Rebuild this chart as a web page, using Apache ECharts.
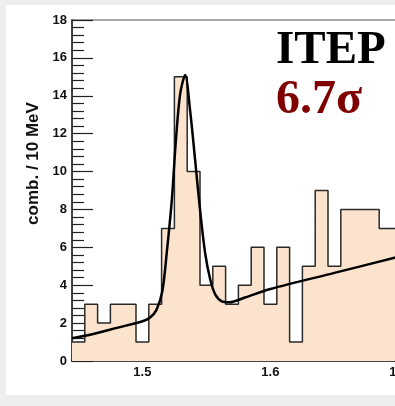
<!DOCTYPE html>
<html>
<head>
<meta charset="utf-8">
<script src="https://cdn.jsdelivr.net/npm/echarts@6/dist/echarts.min.js"></script>
<style>
  html, body { margin: 0; padding: 0; background: #eeeeee; overflow: hidden; }
  #panel { position: absolute; left: 6px; top: 5px; width: 389px; height: 390px; background: #fff; }
  /* the plot runs past the right edge of the window, as in the cropped original */
  #chart { position: absolute; left: 0; top: 0; width: 470px; height: 406px; }
</style>
</head>
<body>
<div id="panel"></div>
<div id="chart"></div>
<script>
// histogram: bin centers (GeV) and combinations per 10 MeV bin
var binCenters = [1.45, 1.46, 1.47, 1.48, 1.49, 1.50, 1.51, 1.52, 1.53, 1.54, 1.55, 1.56, 1.57,
                  1.58, 1.59, 1.60, 1.61, 1.62, 1.63, 1.64, 1.65, 1.66, 1.67, 1.68, 1.69, 1.70]
var counts = [1, 3, 2, 3, 3, 1, 3, 7, 15, 10, 4, 5, 3,
              4, 6, 3, 6, 1, 5, 9, 5, 8, 8, 8, 7, 7]
var binWidth = 0.01

// fit curve
var fitMass = [1.445, 1.46, 1.48, 1.50, 1.506, 1.511, 1.5156, 1.519, 1.523, 1.526, 1.5295, 1.5334,
               1.5373, 1.5412, 1.545, 1.549, 1.553, 1.557, 1.562, 1.568, 1.58, 1.60, 1.65, 1.70, 1.745]
var fitValue = [1.2, 1.4, 1.75, 2.1, 2.3, 2.7, 3.7, 5.7, 8.5, 11.5, 14.1, 15.1,
                13.2, 10.6, 8.0, 5.7, 4.3, 3.5, 3.15, 3.1, 3.35, 3.8, 4.65, 5.5, 6.25]

var xTickLabels = ['1.5', '1.6', '1.7']
var yAxisName = 'comb. / 10 MeV'
var expText = 'ITEP'
var sigText = '6.7σ'

// step outline built from the bins
var histPoints = []
binCenters.forEach(function (c, i) {
  histPoints.push([c - binWidth / 2, counts[i]])
  histPoints.push([c + binWidth / 2, counts[i]])
})
var fitPoints = fitMass.map(function (m, i) { return [m, fitValue[i]] })

var myChart = echarts.init(document.getElementById('chart'))
var labelFont = { fontFamily: 'Liberation Sans', fontWeight: 'bold', fontSize: 13, color: '#111' }

var option = {
  animation: false,
  grid: [
    { left: 72, top: 20, width: 384, height: 341, show: true, borderColor: '#a8a8a8', borderWidth: 2 },
    { left: 72, top: 20, width: 384, height: 341, show: false }
  ],
  xAxis: [
    {
      type: 'value', gridIndex: 0, min: 1.445, max: 1.745,
      splitNumber: 3, minInterval: 0.1, maxInterval: 0.1,
      axisLine: { lineStyle: { color: '#222', width: 1.5 } },
      axisTick: { inside: true, length: 8, lineStyle: { color: '#222', width: 1.2 } },
      splitLine: { show: false },
      axisLabel: Object.assign({
        margin: 5, showMinLabel: false, showMaxLabel: false,
        formatter: function (v) {
          var s = v.toFixed(1)
          return Math.abs(v * 10 - Math.round(v * 10)) < 1e-6 && xTickLabels.indexOf(s) >= 0 ? s : ''
        }
      }, labelFont)
    },
    {
      // short ticks every 50 MeV
      type: 'value', gridIndex: 1, min: 1.445, max: 1.745,
      splitNumber: 6, minInterval: 0.05, maxInterval: 0.05,
      axisLine: { show: false },
      axisTick: { inside: true, length: 5, lineStyle: { color: '#222', width: 1.2 } },
      axisLabel: { show: false },
      splitLine: { show: false }
    }
  ],
  yAxis: [
    {
      type: 'value', gridIndex: 0, min: 0, max: 18, interval: 2,
      name: yAxisName, nameLocation: 'middle', nameRotate: 90, nameGap: 30,
      nameTextStyle: { fontFamily: 'Liberation Sans', fontWeight: 'bold', fontSize: 17, color: '#111', padding: [0, 0, 0, 54] },
      axisLine: { lineStyle: { color: '#222', width: 1.5 } },
      axisTick: { inside: true, length: 21, lineStyle: { color: '#222', width: 1.2 } },
      minorTick: { show: true, splitNumber: 5, length: 12, lineStyle: { color: '#222', width: 1.2 } },
      splitLine: { show: false },
      axisLabel: Object.assign({ margin: 5 }, labelFont)
    },
    { type: 'value', gridIndex: 1, min: 0, max: 18, show: false }
  ],
  series: [
    {
      name: 'data',
      type: 'line',
      xAxisIndex: 0, yAxisIndex: 0,
      data: histPoints,
      showSymbol: false,
      lineStyle: { color: '#2a2a2a', width: 1.5 },
      areaStyle: { color: '#fce3cd', opacity: 1 },
      z: 2
    },
    {
      name: 'fit',
      type: 'line',
      xAxisIndex: 0, yAxisIndex: 0,
      data: fitPoints,
      smooth: 0.3,
      showSymbol: false,
      lineStyle: { color: '#000', width: 2.5 },
      z: 3
    }
  ],
  graphic: [
    { type: 'text', left: 276, top: 27, z: 10,
      style: { text: expText, fill: '#000', font: 'bold 47px "Liberation Serif"' } },
    { type: 'text', left: 276, top: 77, z: 10,
      style: { text: sigText, fill: '#800000', font: 'bold 48px "Liberation Serif"' } }
  ]
}

option && myChart.setOption(option)
</script>
</body>
</html>
